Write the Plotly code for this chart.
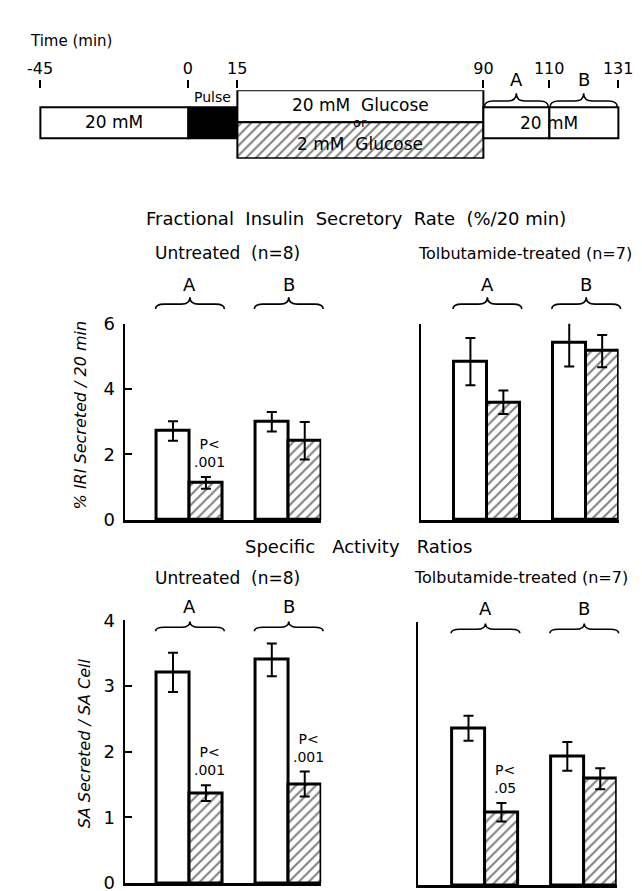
import plotly.graph_objects as go

W, H = 642, 891
FONT = "'DejaVu Sans', 'Noto Sans', sans-serif"

# ---------------- data ----------------
time_points = [-45, 0, 15, 90, 110, 131]
time_labels = ["-45", "0", "15", "90", "110", "131"]
periods = ["A", "B"]

# Fractional insulin secretory rate (% IRI secreted / 20 min): mean and SEM
fisr_untreated_20 = [2.72, 3.00]
fisr_untreated_20_err = [0.30, 0.30]
fisr_untreated_2 = [1.13, 2.42]
fisr_untreated_2_err = [0.18, 0.57]
fisr_tolb_20 = [4.84, 5.41]
fisr_tolb_20_err = [0.72, 0.72]
fisr_tolb_2 = [3.60, 5.16]
fisr_tolb_2_err = [0.36, 0.49]

# Specific activity ratios (SA secreted / SA cell): mean and SEM
sar_untreated_20 = [3.21, 3.40]
sar_untreated_20_err = [0.30, 0.25]
sar_untreated_2 = [1.37, 1.51]
sar_untreated_2_err = [0.12, 0.19]
sar_tolb_20 = [2.39, 1.96]
sar_tolb_20_err = [0.19, 0.22]
sar_tolb_2 = [1.11, 1.62]
sar_tolb_2_err = [0.14, 0.16]

fisr_ticks = [0, 2, 4, 6]
sar_ticks = [0, 1, 2, 3, 4]

p_fisr_untreated = ["P<<br>.001", None]
p_fisr_tolb = [None, None]
p_sar_untreated = ["P<<br>.001", "P<<br>.001"]
p_sar_tolb = ["P<<br>.05", None]


# ---------------- helpers ----------------
def PX(x):
    return x / W


def PY(y):
    return 1 - y / H


fig = go.Figure()
shapes = []
annotations = []


def text(t, x, y, size, xref="paper", yref="paper", style="normal", **kw):
    if xref == "paper":
        x = PX(x)
    if yref == "paper":
        y = PY(y)
    d = dict(text=t, x=x, y=y, xref=xref, yref=yref, showarrow=False,
             font=dict(family=FONT, size=size, color="black", style=style),
             xanchor=kw.pop("xanchor", "center"), yanchor=kw.pop("yanchor", "middle"))
    d.update(kw)
    annotations.append(d)


def brace(x0, x1, y_end, y_peak, lw=1.6):
    xm = (x0 + x1) / 2
    yf = (y_end + y_peak) / 2 + 1
    r = min(9, (x1 - x0) / 6)

    def p(x, y):
        return f"{PX(x):.5f},{PY(y):.5f}"
    path = (f"M {p(x0, y_end)} Q {p(x0, yf)} {p(x0 + r, yf)} L {p(xm - r, yf)} "
            f"Q {p(xm, yf)} {p(xm, y_peak)} Q {p(xm, yf)} {p(xm + r, yf)} "
            f"L {p(x1 - r, yf)} Q {p(x1, yf)} {p(x1, y_end)}")
    shapes.append(dict(type="path", path=path, xref="paper", yref="paper",
                       line=dict(color="black", width=lw)))


# ---------------- timeline ----------------
T_SLOPE = 3.39   # px per minute
T_ZERO = 176.4   # px at t = 0
TX0, TX1 = 20, 625
TY0, TY1 = 73, 143  # px, top/bottom of timeline area


def tpx(t):
    return T_ZERO + T_SLOPE * t


def ty(py):
    return TY1 - py


starts = time_points[:-1]
durs = [b - a for a, b in zip(time_points[:-1], time_points[1:])]
hatch = dict(shape="/", fgcolor="black", bgcolor="white", size=7, solidity=0.28)

box_line = dict(color="black", width=2)
# pre-period 20 mM
fig.add_trace(go.Bar(orientation="h", base=[starts[0]], x=[durs[0]], y=[ty(106)], width=[32],
                     marker=dict(color="white", line=box_line), xaxis="x5", yaxis="y5", showlegend=False))
# pulse
fig.add_trace(go.Bar(orientation="h", base=[starts[1]], x=[durs[1]], y=[ty(106)], width=[32],
                     marker=dict(color="black", line=box_line), xaxis="x5", yaxis="y5", showlegend=False))
# 20 mM glucose
fig.add_trace(go.Bar(orientation="h", base=[starts[2]], x=[durs[2]], y=[ty(89.5)], width=[33],
                     marker=dict(color="white", line=box_line), xaxis="x5", yaxis="y5", showlegend=False))
# 2 mM glucose (hatched)
fig.add_trace(go.Bar(orientation="h", base=[starts[2]], x=[durs[2]], y=[ty(124.5)], width=[37],
                     marker=dict(color="white", line=box_line, pattern=hatch),
                     xaxis="x5", yaxis="y5", showlegend=False))
# periods A, B in 20 mM
fig.add_trace(go.Bar(orientation="h", base=starts[3:], x=durs[3:], y=[ty(106)] * 2, width=[32, 32],
                     marker=dict(color="white", line=box_line), xaxis="x5", yaxis="y5", showlegend=False))

mid_glc = (starts[2] + time_points[3]) / 2
text("Time (min)", 56, 23, 15)
text("20 mM", (starts[0] + time_points[1]) / 2, ty(106), 17, xref="x5", yref="y5")
text("Pulse", (starts[1] + time_points[2]) / 2, ty(80), 14, xref="x5", yref="y5")
text("20 mM  Glucose", mid_glc, ty(88), 17, xref="x5", yref="y5")
text("or", mid_glc, ty(106), 13, xref="x5", yref="y5")
text("2 mM  Glucose", mid_glc, ty(128), 17, xref="x5", yref="y5")
text("20 mM", time_points[4], ty(107), 17, xref="x5", yref="y5")
for i, lab in enumerate(periods):
    a, b = time_points[3 + i], time_points[4 + i]
    brace(tpx(a) + 1, tpx(b) - 1, 90, 76, lw=1.5)
    text(lab, (a + b) / 2, 62, 18, xref="x5")

layout_axes = {}
layout_axes["xaxis5"] = dict(domain=[PX(TX0), PX(TX1)],
                             range=[(TX0 - T_ZERO) / T_SLOPE, (TX1 - T_ZERO) / T_SLOPE],
                             anchor="free", position=PY(71), side="top",
                             showline=False, showgrid=False, zeroline=False,
                             ticks="outside", ticklen=8, tickwidth=1.5, tickcolor="black",
                             tickvals=time_points, ticktext=time_labels,
                             tickfont=dict(family=FONT, size=16, color="black"))
layout_axes["yaxis5"] = dict(domain=[PY(TY1), PY(TY0)], range=[0, TY1 - TY0], anchor="x5",
                             visible=False)

# ---------------- bar panels ----------------
x_white = [3 * i for i in range(len(periods))]
x_hatch = [3 * i + 1 for i in range(len(periods))]

panels = [
    dict(n="", xd=(111, 314), xr=(-1.47, 4.5), yd=(312, 513), yr=(0, 6), ticks=fisr_ticks,
         w=fisr_untreated_20, we=fisr_untreated_20_err, h=fisr_untreated_2, he=fisr_untreated_2_err,
         p=p_fisr_untreated),
    dict(n="2", xd=(417, 621), xr=(-1.5, 4.5), yd=(312, 513), yr=(0, 6), ticks=None,
         w=fisr_tolb_20, we=fisr_tolb_20_err, h=fisr_tolb_2, he=fisr_tolb_2_err, p=p_fisr_tolb),
    dict(n="3", xd=(111, 314), xr=(-1.47, 4.5), yd=(616, 885), yr=(0, 4), ticks=sar_ticks,
         w=sar_untreated_20, we=sar_untreated_20_err, h=sar_untreated_2, he=sar_untreated_2_err,
         p=p_sar_untreated),
    dict(n="4", xd=(414, 619), xr=(-1.53, 4.5), yd=(618, 887), yr=(0, 4), ticks=None,
         w=sar_tolb_20, we=sar_tolb_20_err, h=sar_tolb_2, he=sar_tolb_2_err, p=p_sar_tolb),
]

err_style = dict(type="data", color="black", thickness=2, width=5)
for pn in panels:
    xa, ya = "x" + pn["n"], "y" + pn["n"]
    fig.add_trace(go.Bar(x=x_white, y=pn["w"], width=[1] * len(periods),
                         marker=dict(color="white", line=dict(color="black", width=3)),
                         error_y=dict(array=pn["we"], **err_style),
                         xaxis=xa, yaxis=ya, showlegend=False))
    fig.add_trace(go.Bar(x=x_hatch, y=pn["h"], width=[1] * len(periods),
                         marker=dict(color="white", line=dict(color="black", width=3), pattern=hatch),
                         error_y=dict(array=pn["he"], **err_style),
                         xaxis=xa, yaxis=ya, showlegend=False))
    for i, lab in enumerate(pn["p"]):
        if lab:
            text(lab, x_hatch[i], pn["h"][i] + pn["he"][i], 14, xref=xa, yref=ya,
                 yanchor="bottom", yshift=5, xshift=4)

    xk = "xaxis" + pn["n"]
    yk = "yaxis" + pn["n"]
    layout_axes[xk] = dict(domain=[PX(pn["xd"][0]), PX(pn["xd"][1])], range=list(pn["xr"]),
                           anchor=ya, showline=True, linewidth=2.5, linecolor="black",
                           showgrid=False, zeroline=False, showticklabels=False, ticks="")
    yax = dict(domain=[PY(pn["yd"][1]), PY(pn["yd"][0])], range=list(pn["yr"]), anchor=xa,
               showline=True, linewidth=2, linecolor="black", showgrid=False, zeroline=False)
    if pn["ticks"]:
        yax.update(ticks="inside", ticklen=7, tickwidth=2, tickcolor="black",
                   tickvals=pn["ticks"], ticktext=[str(t) for t in pn["ticks"]],
                   tickfont=dict(family=FONT, size=18, color="black"), ticklabelstandoff=4)
    else:
        yax.update(ticks="", showticklabels=False)
    layout_axes[yk] = yax

    def dpx(x, pn=pn):
        return pn["xd"][0] + (x - pn["xr"][0]) / (pn["xr"][1] - pn["xr"][0]) * (pn["xd"][1] - pn["xd"][0])
    top = pn["yd"][0]
    upper = pn["yr"][1] == 6
    for i, lab in enumerate(periods):
        x0 = dpx(x_white[i] - 0.5) - 1
        x1 = dpx(x_hatch[i] + 0.5) + 2
        brace(x0, x1, top - 15 if upper else top + 11, top - 27 if upper else top + 1)
        text(lab, (x0 + x1) / 2, top - 40 if upper else top - 14, 18)

# ---------------- titles ----------------
text("Fractional  Insulin  Secretory  Rate  (%/20 min)", 350, 204, 18)
text("Untreated  (n=8)", 217, 240, 17)
text("Tolbutamide-treated (n=7)", 524, 240, 16)
text("Specific   Activity   Ratios", 352, 540, 18)
text("Untreated  (n=8)", 217, 572, 17)
text("Tolbutamide-treated (n=7)", 520, 572, 16)

text("% IRI Secreted / 20 min", 66, 405, 16, textangle=-90, style="italic")
text("SA Secreted / SA Cell", 70, 742, 16, textangle=-90, style="italic")

fig.update_layout(
    width=W, height=H,
    margin=dict(l=0, r=0, t=0, b=0),
    paper_bgcolor="white", plot_bgcolor="rgba(0,0,0,0)",
    barmode="overlay", bargap=0,
    font=dict(family=FONT, color="black"),
    shapes=shapes, annotations=annotations,
    **layout_axes,
)

fig.write_html("out.html")
